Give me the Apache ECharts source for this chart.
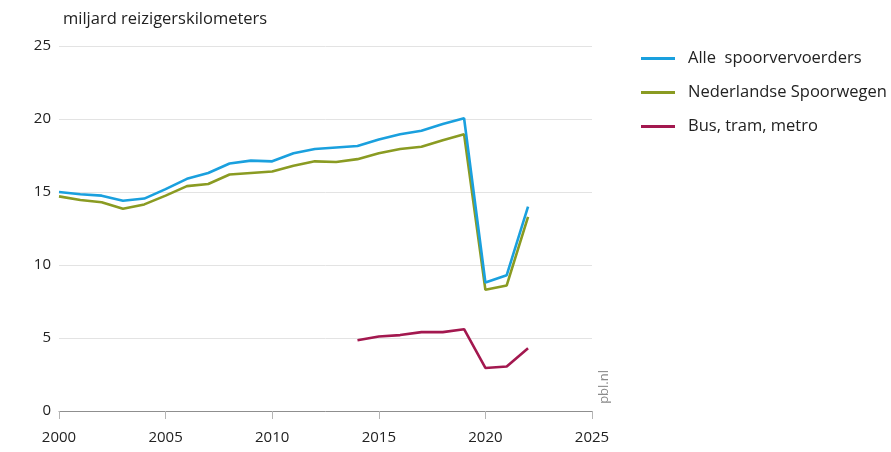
<!DOCTYPE html>
<html><head><meta charset="utf-8">
<script src="https://cdn.jsdelivr.net/npm/echarts@6/dist/echarts.min.js"></script>
<style>html,body{margin:0;padding:0;background:#fff}#c{width:891px;height:452px}</style>
</head><body><div id="c"></div>
<script>
const years = [2000,2001,2002,2003,2004,2005,2006,2007,2008,2009,2010,2011,2012,2013,2014,2015,2016,2017,2018,2019,2020,2021,2022];
const alleSpoor = [15.0,14.85,14.75,14.4,14.55,15.2,15.9,16.3,16.95,17.15,17.1,17.65,17.95,18.05,18.15,18.6,18.95,19.2,19.65,20.05,8.8,9.3,14.0];
const nsSpoor   = [14.7,14.45,14.3,13.85,14.15,14.75,15.4,15.55,16.2,16.3,16.4,16.8,17.1,17.05,17.25,17.65,17.95,18.1,18.55,18.95,8.3,8.6,13.3];
const btmYears = [2014,2015,2016,2017,2018,2019,2020,2021,2022];
const btm = [4.85,5.1,5.2,5.4,5.4,5.6,2.95,3.05,4.3];
const seriesNames = ['Alle  spoorvervoerders','Nederlandse Spoorwegen','Bus, tram, metro'];
const colors = ['#1aa0de','#8a9b22','#a3184f'];
const yTicks = {min:0,max:25,interval:5};
const xTicks = {min:2000,max:2025,interval:5};
const FONT = 'Open Sans';

const zip = (xs, ys) => xs.map((x,i)=>[x, ys[i]]);
const chart = echarts.init(document.getElementById('c'));
chart.setOption({
  animation:false,
  textStyle:{fontFamily:FONT},
  grid:{left:59,right:299,top:46,bottom:41,containLabel:false},
  title:{text:'miljard reizigerskilometers',left:58,top:6,textStyle:{fontFamily:FONT,fontSize:16.5,fontWeight:'normal',color:'#222'}},
  legend:{orient:'vertical',left:636,top:45,itemWidth:34,itemHeight:3,itemGap:17,icon:'rect',
    textStyle:{fontFamily:FONT,fontSize:16.5,color:'#222',padding:[0,0,0,8]},
    data:seriesNames},
  xAxis:{type:'value',min:xTicks.min,max:xTicks.max,interval:xTicks.interval,
    axisLine:{show:true,lineStyle:{color:'#8f8f8f',width:1}},
    axisTick:{show:true,length:8,lineStyle:{color:'#b5b5b5'}},
    splitLine:{show:false},
    axisLabel:{fontFamily:FONT,fontSize:15,color:'#222',margin:19,formatter:v=>String(v)}},
  yAxis:{type:'value',min:yTicks.min,max:yTicks.max,interval:yTicks.interval,
    axisLine:{show:false},axisTick:{show:false},
    splitLine:{lineStyle:{color:'#e3e3e3',width:1}},
    axisLabel:{fontFamily:FONT,fontSize:15,color:'#222',margin:8}},
  graphic:[{type:'text',left:598,top:370,rotation:Math.PI/2,
    style:{text:'pbl.nl',fill:'#8a8a8a',font:'13px "Open Sans"'}}],
  series:[
    {name:seriesNames[0],type:'line',data:zip(years,alleSpoor),showSymbol:false,lineStyle:{color:colors[0],width:2.6},itemStyle:{color:colors[0]},z:3},
    {name:seriesNames[1],type:'line',data:zip(years,nsSpoor),showSymbol:false,lineStyle:{color:colors[1],width:2.6},itemStyle:{color:colors[1]},z:2},
    {name:seriesNames[2],type:'line',data:zip(btmYears,btm),showSymbol:false,lineStyle:{color:colors[2],width:2.6},itemStyle:{color:colors[2]},z:2}
  ]
});
</script></body></html>
